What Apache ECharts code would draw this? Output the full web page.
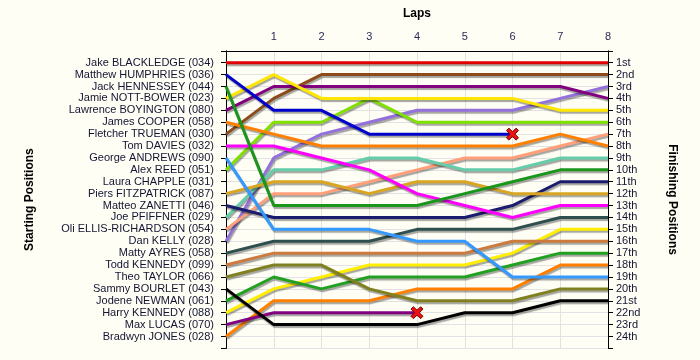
<!DOCTYPE html>
<html>
<head>
<meta charset="utf-8">
<script src="https://cdn.jsdelivr.net/npm/echarts@6/dist/echarts.min.js"></script>
<style>
html,body{margin:0;padding:0;background:#fefef5;}
#c{width:700px;height:360px;}
</style>
</head>
<body>
<div id="c"></div>
<script>
// Laps (x tick labels); lap 0 is the start
const lapLabels = ['', '1', '2', '3', '4', '5', '6', '7', '8'];

// Drivers in starting order
const drivers = [
  'Jake BLACKLEDGE (034)', 'Matthew HUMPHRIES (036)', 'Jack HENNESSEY (044)',
  'Jamie NOTT-BOWER (023)', 'Lawrence BOYINGTON (080)', 'James COOPER (058)',
  'Fletcher TRUEMAN (030)', 'Tom DAVIES (032)', 'George ANDREWS (090)',
  'Alex REED (051)', 'Laura CHAPPLE (031)', 'Piers FITZPATRICK (087)',
  'Matteo ZANETTI (046)', 'Joe PFIFFNER (029)', 'Oli ELLIS-RICHARDSON (054)',
  'Dan KELLY (028)', 'Matty AYRES (058)', 'Todd KENNEDY (099)',
  'Theo TAYLOR (066)', 'Sammy BOURLET (043)', 'Jodene NEWMAN (061)',
  'Harry KENNEDY (088)', 'Max LUCAS (070)', 'Bradwyn JONES (028)'
];

// Finishing position labels (right axis)
const finishLabels = ['1st','2nd','3rd','4th','5th','6th','7th','8th','9th','10th',
  '11th','12th','13th','14th','15th','16th','17th','18th','19th','20th',
  '21st','22nd','23rd','24th'];

// Position per lap (lap 0 .. lap 8) for each driver
const posBlackledge  = [1, 1, 1, 1, 1, 1, 1, 1, 1];
const posHumphries   = [2, 5, 5, 7, 7, 7, 7];            // retired after lap 6
const posHennessey   = [3, 13, 13, 13, 13, 12, 11, 10, 10];
const posNottBower   = [4, 2, 4, 4, 4, 4, 4, 5, 5];
const posBoyington   = [5, 3, 3, 3, 3, 3, 3, 3, 4];
const posCooper      = [6, 7, 8, 8, 8, 8, 8, 7, 8];
const posTrueman     = [7, 4, 2, 2, 2, 2, 2, 2, 2];
const posDavies      = [8, 8, 9, 10, 12, 13, 14, 13, 13];
const posAndrews     = [9, 15, 15, 15, 16, 16, 19, 19, 19];
const posReed        = [10, 6, 6, 4, 6, 6, 6, 6, 6];
const posChapple     = [];
const posFitzpatrick = [12, 11, 11, 12, 11, 11, 12, 12, 12];
const posZanetti     = [13, 14, 14, 14, 14, 14, 13, 11, 11];
const posPfiffner    = [14, 10, 10, 9, 9, 10, 10, 9, 9];
const posEllis       = [15, 12, 12, 11, 10, 9, 9, 8, 7];
const posKelly       = [16, 9, 7, 6, 5, 5, 5, 4, 3];
const posAyres       = [17, 16, 16, 16, 15, 15, 15, 14, 14];
const posToddKennedy = [18, 17, 17, 17, 17, 17, 16, 16, 16];
const posTaylor      = [19, 18, 18, 20, 21, 21, 21, 20, 20];
const posBourlet     = [20, 23, 23, 23, 23, 22, 22, 21, 21];
const posNewman      = [21, 19, 20, 19, 19, 19, 18, 17, 17];
const posHarryKennedy= [22, 20, 19, 18, 18, 18, 17, 15, 15];
const posLucas       = [23, 22, 22, 22, 22];             // retired after lap 4
const posJones       = [24, 21, 21, 21, 20, 20, 20, 18, 18];

const positions = [posBlackledge, posHumphries, posHennessey, posNottBower, posBoyington,
  posCooper, posTrueman, posDavies, posAndrews, posReed, posChapple, posFitzpatrick,
  posZanetti, posPfiffner, posEllis, posKelly, posAyres, posToddKennedy, posTaylor,
  posBourlet, posNewman, posHarryKennedy, posLucas, posJones];
const retired = [false, true, false, false, false, false, false, false, false, false, false, false,
  false, false, false, false, false, false, false, false, false, false, true, false];

// Line colours (styles)
const colors = ['#e00000', '#0000cc', '#1a961a', '#ffe600', '#800080', '#ff8000',
  '#8b4c1a', '#ff00ff', '#3399ff', '#80e000', '#999999', '#daa520',
  '#1c1c6e', '#66cdaa', '#ffa07a', '#9370db', '#2f4f4f', '#cd7a3f',
  '#808020', '#000000', '#22a022', '#ffee00', '#800080', '#ff8000'];

const crossPath = 'path://M2,0 L5,3 L8,0 L10,2 L7,5 L10,8 L8,10 L5,7 L2,10 L0,8 L3,5 L0,2 Z';

const textColor = '#141432';
const font = 'Liberation Sans, Arial, sans-serif';

const series = [];
for (let i = drivers.length - 1; i >= 0; i--) {
  const p = positions[i];
  if (!p.length) continue;
  const data = p.map((v, k) => {
    if (retired[i] && k === p.length - 1) {
      return { value: v, symbol: crossPath, symbolSize: 12,
        itemStyle: { color: '#ee1111', borderColor: '#770000', borderWidth: 1 } };
    }
    return v;
  });
  series.push({
    name: drivers[i],
    type: 'line',
    data: data,
    symbol: 'none',
    showSymbol: true,
    showAllSymbol: true,
    silent: true,
    animation: false,
    lineStyle: {
      color: colors[i], width: 3,
      shadowColor: 'rgba(0,0,0,0.35)', shadowOffsetX: 1, shadowOffsetY: 2, shadowBlur: 1
    },
    itemStyle: { color: colors[i] }
  });
}

const yTicks = { interval: 1, min: 0, max: 25 };

const chart = echarts.init(document.getElementById('c'), null, { renderer: 'canvas' });
chart.setOption({
  backgroundColor: '#fefef5',
  animation: false,
  textStyle: { fontFamily: font },
  grid: { left: 226, right: 92, top: 50.8, bottom: 11.6, containLabel: false },
  xAxis: {
    type: 'category',
    data: lapLabels,
    boundaryGap: false,
    position: 'top',
    offset: 5,
    name: 'Laps',
    nameLocation: 'middle',
    nameGap: 26,
    nameTextStyle: { fontWeight: 'bold', fontSize: 12, color: '#000', fontFamily: font },
    axisLine: { lineStyle: { color: '#000', width: 1 } },
    axisTick: { show: false },
    axisLabel: { color: '#2a2a55', fontSize: 11, margin: 3, fontFamily: font, interval: 0 },
    splitLine: { show: true, lineStyle: { color: '#e2e2e2', width: 1 } }
  },
  yAxis: [
    {
      type: 'value', inverse: true, min: yTicks.min, max: yTicks.max, interval: yTicks.interval,
      position: 'left',
      name: 'Starting Positions',
      nameLocation: 'middle',
      nameRotate: 90,
      nameGap: 190,
      nameTextStyle: { fontWeight: 'bold', fontSize: 12, color: '#000', fontFamily: font },
      axisLine: { show: true, lineStyle: { color: '#000', width: 1 } },
      axisTick: { show: true, length: 5, lineStyle: { color: '#000' } },
      axisLabel: {
        color: textColor, fontSize: 11, margin: 12, fontFamily: font,
        formatter: v => (v >= 1 && v <= drivers.length) ? drivers[v - 1] : ''
      },
      splitLine: { show: true, lineStyle: { color: '#e2e2e2', width: 1 } }
    },
    {
      type: 'value', inverse: true, min: yTicks.min, max: yTicks.max, interval: yTicks.interval,
      position: 'right',
      name: 'Finishing Positions',
      nameLocation: 'middle',
      nameRotate: -90,
      nameGap: 58,
      nameTextStyle: { fontWeight: 'bold', fontSize: 12, color: '#000', fontFamily: font },
      axisLine: { show: true, lineStyle: { color: '#000', width: 1 } },
      axisTick: { show: true, length: 5, lineStyle: { color: '#000' } },
      axisLabel: {
        color: textColor, fontSize: 11, margin: 8, fontFamily: font,
        formatter: v => (v >= 1 && v <= finishLabels.length) ? finishLabels[v - 1] : ''
      },
      splitLine: { show: false }
    }
  ],
  series: series
});
</script>
</body>
</html>
